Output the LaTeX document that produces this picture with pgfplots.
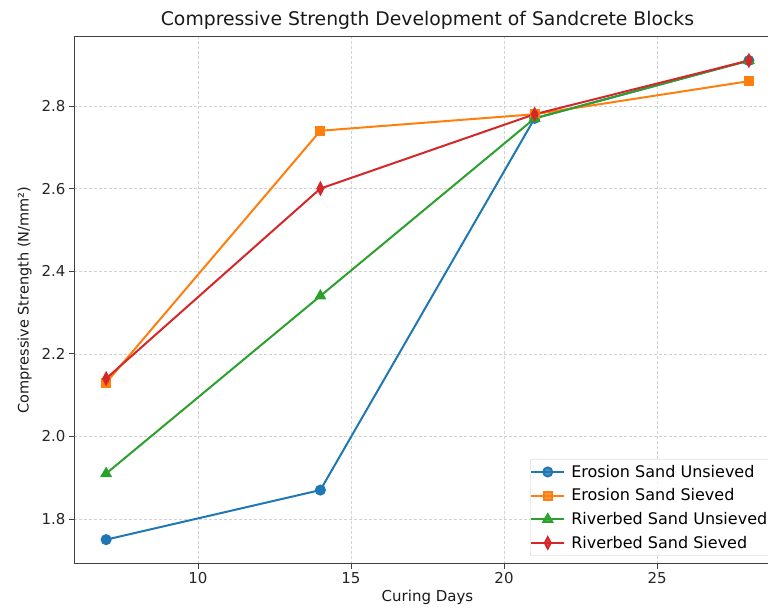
\documentclass[border=0pt]{standalone}
\usepackage{fontspec}
\setmainfont{DejaVu Sans}
\usepackage{pgfplots}
\pgfplotsset{compat=1.18}

\definecolor{c0}{HTML}{1F77B4}
\definecolor{c1}{HTML}{FF7F0E}
\definecolor{c2}{HTML}{2CA02C}
\definecolor{c3}{HTML}{D62728}

\begin{document}
\begin{tikzpicture}
\begin{axis}[
    at={(0,0)}, anchor=south west,
    scale only axis,
    width=707pt, height=527pt,
    xmin=5.95, xmax=29.05,
    ymin=1.692, ymax=2.968,
    xtick={10,15,20,25},
    ytick={1.8,2.0,2.2,2.4,2.6,2.8},
    yticklabel style={/pgf/number format/.cd, fixed, fixed zerofill, precision=1},
    /pgf/number format/assume math mode=true,
    tick align=outside,
    tick pos=left,
    major tick length=5pt,
    grid=major,
    grid style={densely dashed, black!18, line width=0.5pt},
    axis line style={black!75, line width=0.9pt},
    tick style={black!75, line width=0.9pt},
    ticklabel style={font=\fontsize{15}{18}\selectfont, text=black!85},
    title={Compressive Strength Development of Sandcrete Blocks},
    title style={font=\fontsize{18.8}{22}\selectfont, text=black!90, yshift=-2pt},
    xlabel={Curing Days},
    ylabel={Compressive Strength (N/mm²)},
    label style={font=\fontsize{15}{18}\selectfont, text=black!90},
    ylabel style={font=\fontsize{14.5}{18}\selectfont, yshift=3pt},
    legend cell align=left,
    legend image code/.code={
        \draw[mark repeat=2, mark phase=2, #1]
            plot coordinates {(0pt,0pt) (16.5pt,0pt) (33pt,0pt)};
    },
    legend style={
        at={(rel axis cs:0.9893,0.0145)}, anchor=south east,
        draw=black!20, fill=white, fill opacity=0.8, text opacity=1,
        rounded corners=2pt,
        font=\fontsize{16}{19}\selectfont,
        row sep=6pt, inner ysep=4pt, inner xsep=0pt,
        nodes={inner xsep=6pt},
        column 1/.style={nodes={inner xsep=5pt}},
        column 2/.style={nodes={inner xsep=7pt}},
    },
    every axis plot/.append style={line width=2pt},
]
\addplot[c0, mark=*, mark size=4.5pt] coordinates {
    (7,1.75) (14,1.87) (21,2.77) (28,2.91)
};
\addlegendentry{Erosion Sand Unsieved}
\addplot[c1, mark=square*, mark size=4pt] coordinates {
    (7,2.13) (14,2.74) (21,2.78) (28,2.86)
};
\addlegendentry{Erosion Sand Sieved}
\addplot[c2, mark=triangle*, mark size=5pt] coordinates {
    (7,1.91) (14,2.34) (21,2.77) (28,2.91)
};
\addlegendentry{Riverbed Sand Unsieved}
\addplot[c3, mark=diamond*, mark size=5.6pt, mark options={xscale=0.7}] coordinates {
    (7,2.14) (14,2.60) (21,2.78) (28,2.91)
};
\addlegendentry{Riverbed Sand Sieved}
\end{axis}
\pgfresetboundingbox
\useasboundingbox (-74pt,-51.4pt) rectangle (694pt,563.6pt);
\end{tikzpicture}
\end{document}
